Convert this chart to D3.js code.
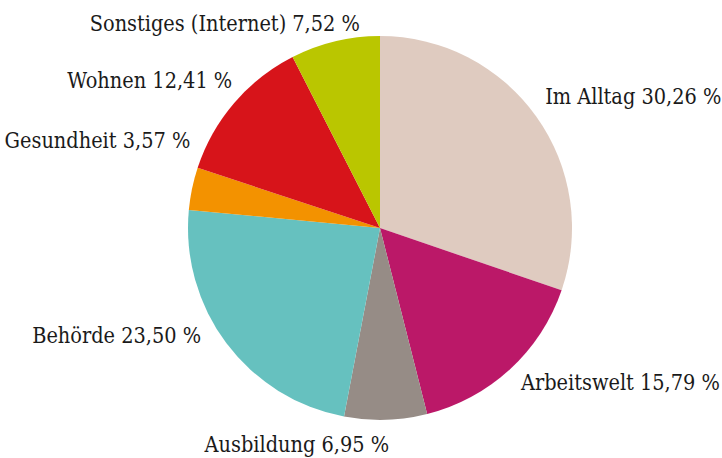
<!DOCTYPE html>
<html>
  <head>
    <title>Pie Chart</title>
    <script type="text/javascript" src="https://d3js.org/d3.v7.min.js"></script>
    <style>
      body { margin: 0; background: #fff; }
      .label {
        font-family: "DejaVu Serif Condensed", "DejaVu Serif", serif;
        font-size: 21.5px;
        fill: #1a1a1a;
      }
    </style>
  </head>

  <body>
    <svg width="722" height="458" class="pie"></svg>

    <script type="text/javascript">
      var categories = ['Im Alltag', 'Arbeitswelt', 'Ausbildung', 'Behörde',
                        'Gesundheit', 'Wohnen', 'Sonstiges (Internet)'];
      var shares = [30.26, 15.79, 6.95, 23.50, 3.57, 12.41, 7.52];
      var colors = ['#dfcbc0', '#bb1868', '#968c86', '#66c1bf',
                    '#f39200', '#d7141a', '#bac600'];

      // where the labels sit: angle (deg, clockwise from top) and distance
      var labelAngle  = [51.5, 137.7, 177.6, 238.9, 294.8, 315, 354.4];
      var labelRadius = [211, 209.5, 217, 209, 209, 209, 206];

      var cx = 380, cy = 228, radius = 192;

      var color = d3.scaleOrdinal().domain(categories).range(colors);
      var fmt = d3.formatLocale({ decimal: ',', thousands: '.', grouping: [3], currency: ['', ' €'] })
                  .format('.2f');

      var pie = d3.pie().sort(null).value(function(d, i) { return shares[i]; });
      var slices = pie(categories);

      var arc = d3.arc().innerRadius(0).outerRadius(radius);

      var svg = d3.select('svg.pie');
      var g = svg.append('g')
                 .attr('transform', 'translate(' + cx + ',' + cy + ')');

      g.selectAll('path.slice')
       .data(slices)
       .enter()
       .append('path')
       .attr('class', 'slice')
       .attr('d', arc)
       .attr('fill', function(d) { return color(d.data); });

      g.selectAll('text.label')
       .data(slices)
       .enter()
       .append('text')
       .attr('class', 'label')
       .attr('x', function(d, i) { return labelRadius[i] * Math.sin(labelAngle[i] * Math.PI / 180); })
       .attr('y', function(d, i) { return -labelRadius[i] * Math.cos(labelAngle[i] * Math.PI / 180); })
       .attr('dy', '0.35em')
       .attr('text-anchor', function(d, i) { return labelAngle[i] < 170 ? 'start' : 'end'; })
       .text(function(d) { return d.data + ' ' + fmt(d.value) + ' %'; });
    </script>
  </body>
</html>
